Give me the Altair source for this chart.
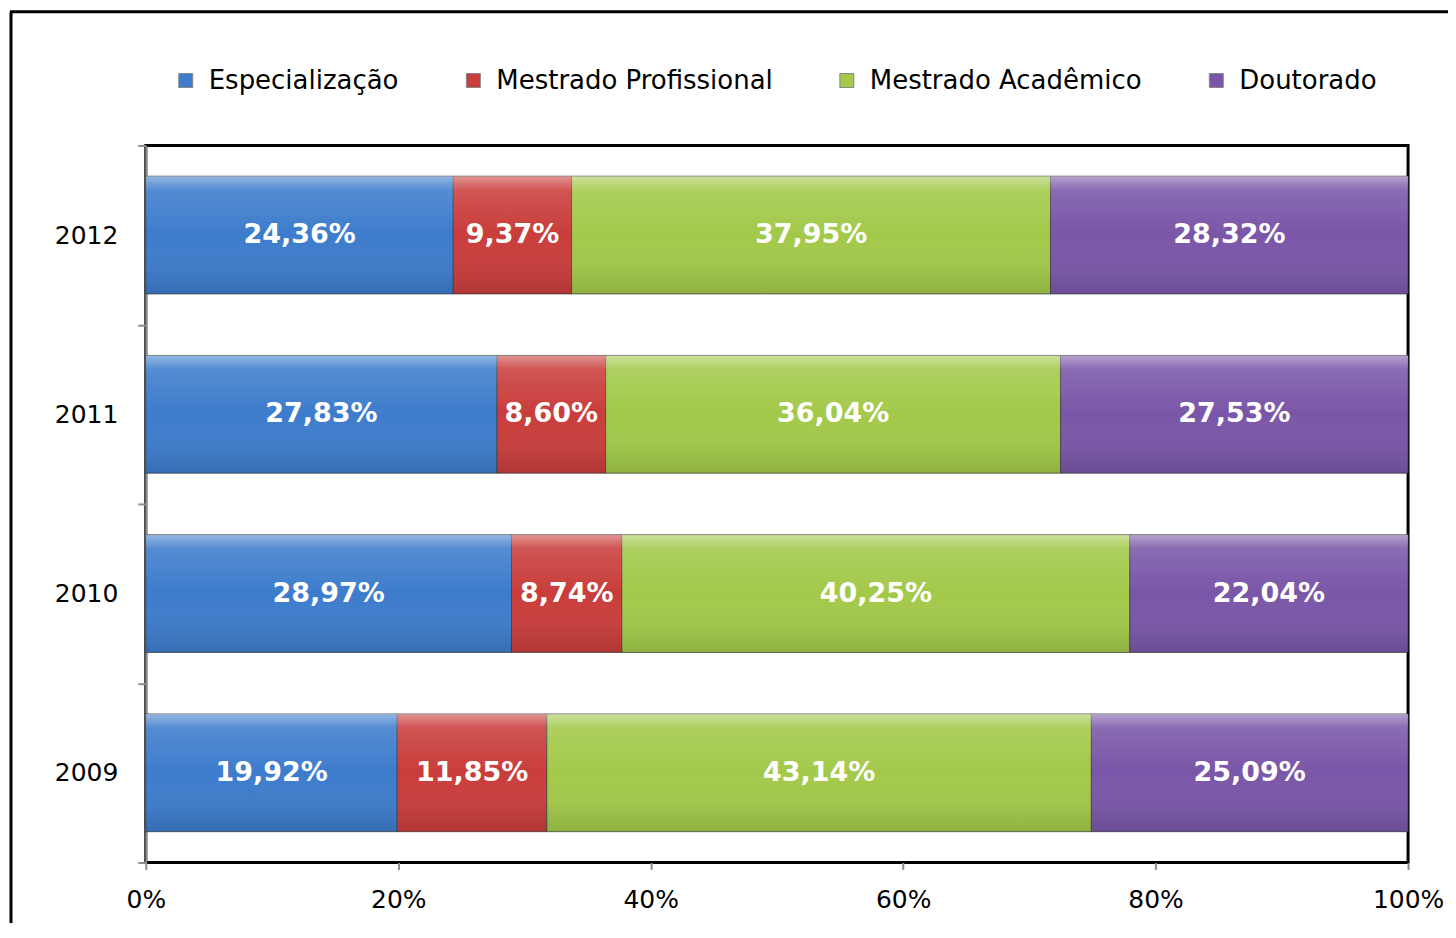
import altair as alt
import pandas as pd

years = ["2012", "2011", "2010", "2009"]
series = ["Especialização", "Mestrado Profissional", "Mestrado Acadêmico", "Doutorado"]
colors = ["#3d7ccc", "#c93d3b", "#a3c94a", "#7a56a8"]
especializacao = [24.36, 27.83, 28.97, 19.92]
mestrado_prof = [9.37, 8.60, 8.74, 11.85]
mestrado_acad = [37.95, 36.04, 40.25, 43.14]
doutorado = [28.32, 27.53, 22.04, 25.09]
x_ticks = [0, 20, 40, 60, 80, 100]

rows = []
for si, (name, vals) in enumerate(zip(series, [especializacao, mestrado_prof, mestrado_acad, doutorado])):
    for y, v in zip(years, vals):
        rows.append({"ano": y, "serie": name, "ordem": si, "valor": v,
                     "rotulo": f"{v:.2f}".replace(".", ",") + "%"})
df = pd.DataFrame(rows)

FONT = "DejaVu Sans"
BAND = 0.657

base = alt.Chart(df).transform_stack(
    stack="valor", groupby=["ano"], as_=["x0", "x1"],
    sort=[alt.SortField("ordem", order="ascending")]
).transform_calculate(mid="(datum.x0 + datum.x1) / 2")

yscale = alt.Scale(paddingInner=0, paddingOuter=0)
yenc = alt.Y("ano:N", sort=years, title=None, scale=yscale,
             axis=alt.Axis(tickBand="extent", labelFontSize=25, labelFont=FONT,
                           labelColor="black", labelPadding=20, tickSize=8,
                           tickColor="#8c8c8c", tickWidth=2, domainColor="#8c8c8c",
                           domainWidth=2))

xscale = alt.Scale(domain=[0, 100], nice=False)

bars = base.mark_bar(stroke="#3a3a3a", strokeWidth=1, strokeOpacity=0.7,
                     height={"band": BAND}).encode(
    x=alt.X("x0:Q", scale=xscale, title=None,
            axis=alt.Axis(values=x_ticks, labelExpr="datum.value + '%'",
                          labelFontSize=25, labelFont=FONT, labelColor="black",
                          labelFlush=False, labelPadding=18, tickSize=7,
                          tickColor="#8c8c8c", tickWidth=2, grid=False, domain=False)),
    x2="x1:Q",
    y=yenc,
    color=alt.Color("serie:N", sort=series,
                    scale=alt.Scale(domain=series, range=colors),
                    legend=alt.Legend(title=None, orient="none", legendX=27, legendY=-78,
                                      direction="horizontal", columns=4,
                                      symbolType="square", symbolSize=196,
                                      symbolStrokeColor="#888888", symbolStrokeWidth=1,
                                      labelFontSize=26, labelFont=FONT, labelColor="black",
                                      labelLimit=0, labelOffset=10, columnPadding=61)),
)

shade = base.mark_bar(
    height={"band": BAND},
    color=alt.Gradient(
        gradient="linear", x1=0, x2=0, y1=0, y2=1,
        stops=[
            alt.GradientStop(color="rgba(255,255,255,0.45)", offset=0),
            alt.GradientStop(color="rgba(255,255,255,0.12)", offset=0.12),
            alt.GradientStop(color="rgba(255,255,255,0.0)", offset=0.5),
            alt.GradientStop(color="rgba(0,0,0,0.12)", offset=1),
        ],
    ),
).encode(x=alt.X("x0:Q", scale=xscale), x2="x1:Q", y=alt.Y("ano:N", sort=years))

labels = base.mark_text(color="white", fontWeight="bold", fontSize=27, font=FONT,
                        baseline="middle", align="center").encode(
    x=alt.X("mid:Q", scale=xscale),
    y=alt.Y("ano:N", sort=years),
    text="rotulo:N",
)

frame_data = alt.Data(values=[{"k": 1}])
frame_left = alt.Chart(frame_data).mark_rule(color="black", strokeWidth=3).encode(
    x=alt.value(-135), y=alt.value(-134), y2=alt.value(900))
frame_top = alt.Chart(frame_data).mark_rule(color="black", strokeWidth=3).encode(
    x=alt.value(-136), x2=alt.value(1400), y=alt.value(-134))

chart = alt.layer(bars, shade, labels, frame_left, frame_top).properties(
    width=1264, height=718,
    autosize=alt.AutoSizeParams(type="none"),
    padding={"left": 138, "top": 137, "right": 40, "bottom": 60},
    background="white",
).configure_view(stroke="black", strokeWidth=3)

chart.save("out.html", embed_options={"renderer": "svg", "actions": False})
